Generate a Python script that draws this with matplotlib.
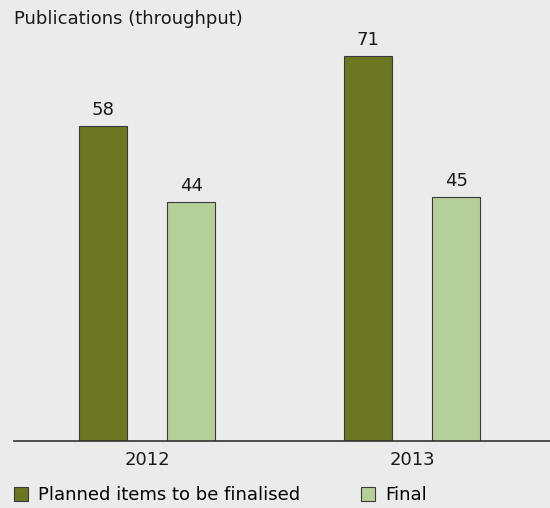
import matplotlib

matplotlib.use("Agg")
import matplotlib.pyplot as plt
import numpy as np

plt.rcParams.update({"font.family": "DejaVu Sans", "font.size": 13})

# ---------------------------------------------------------------------------
# Data
# ---------------------------------------------------------------------------
years = ["2012", "2013"]
planned = [58, 71]
final = [44, 45]
series_labels = ["Planned items to be finalised", "Final"]

BG = "#ebebeb"
DARK = "#6b7720"
LIGHT = "#b5cf98"
EDGE = "#3a3a3a"
TXT = "#1a1a1a"
FS = 13

W, H = 550, 508
fig = plt.figure(figsize=(W / 100, H / 100), dpi=100, facecolor=BG)
ax = fig.add_axes([14 / W, 67 / H, 536 / W, 434 / H], facecolor=BG)

x = np.arange(len(years))
width = 0.18
offset = 0.166

b1 = ax.bar(x - offset, planned, width, color=DARK, edgecolor=EDGE, lw=0.8,
            label=series_labels[0])
b2 = ax.bar(x + offset, final, width, color=LIGHT, edgecolor=EDGE, lw=0.8,
            label=series_labels[1])
for bars in (b1, b2):
    ax.bar_label(bars, padding=5, fontsize=FS, color=TXT)

ax.set_xlim(-0.502, 1.52)
ax.set_ylim(0, 80)
ax.set_xticks(x)
ax.set_xticklabels(years)
ax.tick_params(axis="x", length=0, pad=7, labelcolor=TXT)
ax.set_yticks([])
for side in ("top", "left", "right"):
    ax.spines[side].set_visible(False)
ax.spines["bottom"].set_color("#333333")
ax.spines["bottom"].set_linewidth(1.2)

fig.text(14 / W, 1 - 24 / H, "Publications (throughput)", ha="left",
         va="baseline", fontsize=FS, color=TXT)

# legend: one entry per series, placed like the original
leg_kw = dict(
    loc="center left",
    frameon=False,
    handlelength=14 / 18,
    handleheight=14 / 18,
    handletextpad=0.55,
    fontsize=FS,
    borderpad=0,
    borderaxespad=0,
)
leg1 = fig.legend(handles=[b1], bbox_to_anchor=(14 / W, 1 - 495.5 / H), **leg_kw)
fig.legend(handles=[b2], bbox_to_anchor=(361 / W, 1 - 495.5 / H), **leg_kw)

fig.savefig("out.png", dpi=100, facecolor=BG)
